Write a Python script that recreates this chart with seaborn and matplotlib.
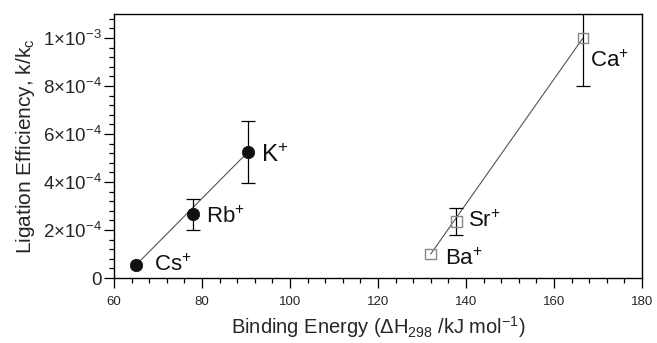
import numpy as np
import pandas as pd
import matplotlib
matplotlib.use("Agg")
import matplotlib.pyplot as plt
import seaborn as sns
from matplotlib.ticker import MultipleLocator, FixedLocator

sns.set_style("ticks")
plt.rcParams['font.family'] = ['Liberation Sans', 'DejaVu Sans']
plt.rcParams['mathtext.fontset'] = 'custom'
plt.rcParams['mathtext.rm'] = 'Liberation Sans'
plt.rcParams['mathtext.it'] = 'Liberation Sans:italic'

# Data
alkali_ions = ["Cs", "Rb", "K"]
alkali_energy = [65.0, 78.0, 90.4]
alkali_eff = [5.4e-5, 2.65e-4, 5.24e-4]
alkali_err = [0.0, 6.5e-5, 1.3e-4]

earth_ions = ["Ba", "Sr", "Ca"]
earth_energy = [132.0, 137.8, 166.6]
earth_eff = [1.0e-4, 2.35e-4, 1.0e-3]
earth_err = [0.0, 5.5e-5, 2.0e-4]

yticks = [0, 2e-4, 4e-4, 6e-4, 8e-4, 1e-3]
ytick_labels = ["0", r"$2{\times}10^{-4}$", r"$4{\times}10^{-4}$", r"$6{\times}10^{-4}$",
                r"$8{\times}10^{-4}$", r"$1{\times}10^{-3}$"]

df_a = pd.DataFrame({"energy": alkali_energy, "eff": alkali_eff, "err": alkali_err, "ion": alkali_ions})
df_e = pd.DataFrame({"energy": earth_energy, "eff": earth_eff, "err": earth_err, "ion": earth_ions})

fig = plt.figure(figsize=(6.57, 3.43), dpi=100)
ax = fig.add_axes([0.1735, 0.1895, 0.8035, 0.7695])

# connecting lines
for df in (df_a, df_e):
    ends = df.iloc[[0, -1]]
    sns.lineplot(data=ends, x="energy", y="eff", ax=ax, color="#555555", lw=0.8,
                 sort=False, zorder=1)

# error bars
for df in (df_a, df_e):
    m = df["err"] > 0
    ax.errorbar(df.loc[m, "energy"], df.loc[m, "eff"], yerr=df.loc[m, "err"], fmt="none",
                ecolor="black", elinewidth=0.9, capsize=5, capthick=0.9, zorder=2)

sns.scatterplot(data=df_a, x="energy", y="eff", ax=ax, marker="o", s=80,
                color="#111111", edgecolor="#111111", linewidth=0.5, zorder=3)
sns.scatterplot(data=df_e, x="energy", y="eff", ax=ax, marker="s", s=58,
                facecolor="none", edgecolor="#888888", linewidth=1.0, zorder=3)

# ion labels
offsets = {"Cs": (4.0, 0, 16), "Rb": (3.0, -1.0e-5, 16), "K": (3.0, -1.5e-5, 17.5),
           "Ba": (3.3, -2.3e-5, 16), "Sr": (2.7, 0, 16), "Ca": (1.7, -9.5e-5, 16)}
for df in (df_a, df_e):
    for _, r in df.iterrows():
        dx, dy, fs = offsets[r["ion"]]
        ax.text(r["energy"] + dx, r["eff"] + dy, r["ion"] + r"$^{+}$", fontsize=fs,
                va="center", ha="left", color="#111111")

ax.set_xlim(60, 180)
ax.set_ylim(0, 1.1e-3)
ax.xaxis.set_major_locator(MultipleLocator(20))
ax.xaxis.set_minor_locator(MultipleLocator(4))
ax.yaxis.set_major_locator(FixedLocator(yticks))
ax.set_yticklabels(ytick_labels)
ax.yaxis.set_minor_locator(MultipleLocator(4e-5))

ax.tick_params(axis="both", which="major", direction="out", length=7, width=0.9, color="black")
ax.tick_params(axis="both", which="minor", direction="out", length=3.6, width=0.9, color="black")
ax.tick_params(axis="y", which="major", labelsize=13.5, pad=2)
ax.tick_params(axis="x", which="major", labelsize=9.5, pad=6)

for s in ax.spines.values():
    s.set_color("black")
    s.set_linewidth(1.0)

ax.set_xlabel(r"Binding Energy ($\Delta$H$_{298}$ /kJ mol$^{-1}$)", fontsize=14.5, labelpad=4)
ax.set_ylabel(r"Ligation Efficiency, k/k$_{\rm c}$", fontsize=15, labelpad=4)

fig.savefig("out.png", dpi=100)
